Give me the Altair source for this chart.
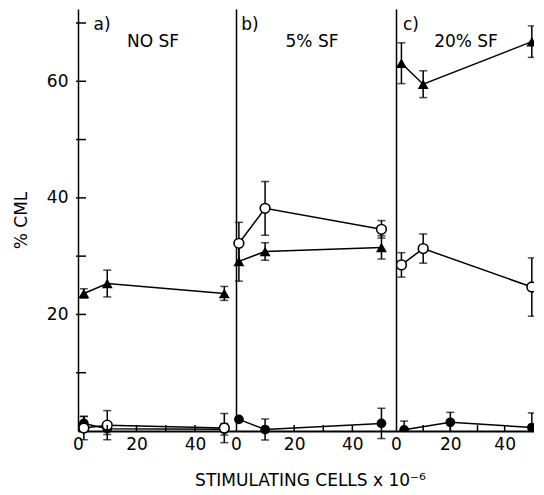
import altair as alt
import pandas as pd

# ---------------- data ----------------
# panel a) NO SF
a_x = [2, 10, 50]
a_tri = [23.6, 25.3, 23.6]
a_tri_err = [0.8, 2.3, 1.2]
a_open = [0.5, 1.0, 0.5]
a_open_err = [2.0, 2.5, 2.5]
a_fill = [1.3, 0.4, 0.3]
a_fill_err = [1.2, 1.0, 1.0]

# panel b) 5% SF
b_x = [1, 10, 50]
b_tri = [29.1, 30.8, 31.5]
b_tri_err = [3.4, 1.5, 2.0]
b_open = [32.2, 38.2, 34.6]
b_open_err = [3.6, 4.6, 1.5]
b_fill = [2.0, 0.25, 1.3]
b_fill_err = [0.0, 1.8, 2.6]

# panel c) 20% SF
c_x = [2, 10, 50]
c_tri = [63.1, 59.5, 66.8]
c_tri_err = [3.5, 2.3, 2.7]
c_open = [28.5, 31.3, 24.7]
c_open_err = [2.1, 2.5, 5.0]
c_fill_x = [3, 20, 50]
c_fill = [0.2, 1.5, 0.6]
c_fill_err = [1.5, 1.7, 2.5]

panel_letters = ["a)", "b)", "c)"]
panel_titles = ["NO SF", "5% SF", "20% SF"]
x_labels = [0, 20, 40]
x_minor = [10, 20, 30, 40]
y_labels = [20, 40, 60]
y_minor = [10, 20, 30, 40, 50, 60, 70]

FONT = "DejaVu Sans"
H = 422
Y_DOMAIN = [0, 72.4]


def frame(xs, ys, errs):
    return pd.DataFrame({
        "x": xs, "y": ys,
        "lo": [v - e for v, e in zip(ys, errs)],
        "hi": [v + e for v, e in zip(ys, errs)],
    })


def panel(idx, width, xdomain, series, first=False, xtitle=None, clip=False):
    xscale = alt.Scale(domain=xdomain, nice=False, zero=False)
    yscale = alt.Scale(domain=Y_DOMAIN, nice=False)
    xaxis_kw = dict(values=x_labels, ticks=False, grid=False, domainColor="black",
                    domainWidth=2, labelFontSize=17, labelFont=FONT, labelColor="black",
                    labelPadding=5, labelFlush=False)
    if xtitle:
        xaxis = alt.Axis(title=xtitle, titleFontSize=17, titleFont=FONT,
                         titleFontWeight="normal", titleColor="black",
                         titlePadding=20, titleX=width / 2 - 6, **xaxis_kw)
    else:
        xaxis = alt.Axis(title="", **xaxis_kw)
    if first:
        yaxis = alt.Axis(values=y_labels, ticks=False, grid=False, domainColor="black",
                         domainWidth=1.5, labelFontSize=17, labelFont=FONT,
                         labelColor="black", labelPadding=10, title="% CML",
                         titleFontSize=17, titleFont=FONT, titleFontWeight="normal",
                         titleColor="black", titlePadding=16)
    else:
        yaxis = alt.Axis(labels=False, ticks=False, grid=False, domainColor="black",
                         domainWidth=1.5, title="")

    layers = []
    base_enc = dict(
        x=alt.X("x:Q", scale=xscale, axis=xaxis),
        y=alt.Y("y:Q", scale=yscale, axis=yaxis),
    )
    # lines
    for kind, df in series:
        layers.append(alt.Chart(df).mark_line(color="black", strokeWidth=1.5, clip=clip)
                      .encode(**base_enc))
    # error bars
    for kind, df in series:
        layers.append(alt.Chart(df).mark_rule(color="black", strokeWidth=1.5, clip=clip)
                      .encode(x="x:Q", y="lo:Q", y2="hi:Q"))
        layers.append(alt.Chart(df).mark_tick(color="black", orient="horizontal", size=8,
                                              thickness=1.5, clip=clip)
                      .encode(x="x:Q", y="lo:Q"))
        layers.append(alt.Chart(df).mark_tick(color="black", orient="horizontal", size=8,
                                              thickness=1.5, clip=clip)
                      .encode(x="x:Q", y="hi:Q"))
    # markers
    for kind, df in series:
        if kind == "tri":
            m = alt.Chart(df).mark_point(shape="triangle-up", filled=True, color="black",
                                         size=120, opacity=1, clip=clip)
        elif kind == "open":
            m = alt.Chart(df).mark_point(shape="circle", filled=True, fill="white",
                                         stroke="black", strokeWidth=1.6, size=95,
                                         opacity=1, clip=clip)
        else:
            m = alt.Chart(df).mark_point(shape="circle", filled=True, color="black",
                                         size=95, opacity=1, clip=clip)
        layers.append(m.encode(x="x:Q", y="y:Q"))

    # inward axis ticks
    xt = pd.DataFrame({"t": x_minor})
    layers.append(alt.Chart(xt).mark_rule(color="black", strokeWidth=1.5)
                  .encode(x=alt.X("t:Q"), y=alt.value(H), y2=alt.value(H - 6)))
    if first:
        yt = pd.DataFrame({"t": y_minor})
        layers.append(alt.Chart(yt).mark_rule(color="black", strokeWidth=1.5)
                      .encode(y=alt.Y("t:Q"), x=alt.value(-2), x2=alt.value(8)))

    # panel labels
    letter_x = [24, 14, 15][idx]
    title_x = [75, 76, 70][idx]
    layers.append(alt.Chart(pd.DataFrame({"t": [panel_letters[idx]]}))
                  .mark_text(font=FONT, fontSize=17, color="black", align="center")
                  .encode(text="t:N", x=alt.value(letter_x), y=alt.value(16)))
    layers.append(alt.Chart(pd.DataFrame({"t": [panel_titles[idx]]}))
                  .mark_text(font=FONT, fontSize=17, color="black", align="center")
                  .encode(text="t:N", x=alt.value(title_x), y=alt.value(33)))

    return alt.layer(*layers).properties(width=width, height=H)


pa = panel(0, 158, [0, 54], [
    ("fill", frame(a_x, a_fill, a_fill_err)),
    ("open", frame(a_x, a_open, a_open_err)),
    ("tri", frame(a_x, a_tri, a_tri_err)),
], first=True)

pb = panel(1, 160, [0, 55], [
    ("fill", frame(b_x, b_fill, b_fill_err)),
    ("tri", frame(b_x, b_tri, b_tri_err)),
    ("open", frame(b_x, b_open, b_open_err)),
], xtitle="STIMULATING CELLS x 10⁻⁶")

pc = panel(2, 138, [0, 50.8], [
    ("fill", frame(c_fill_x, c_fill, c_fill_err)),
    ("open", frame(c_x, c_open, c_open_err)),
    ("tri", frame(c_x, c_tri, c_tri_err)),
], clip=True)

chart = (alt.hconcat(pa, pb, pc, spacing=0, bounds="flush")
         .properties(padding={"left": 4, "top": 1, "right": 0, "bottom": 0},
                     background="white")
         .configure_view(strokeWidth=0))

chart.save("out.html", embed_options={"renderer": "svg", "actions": False})
